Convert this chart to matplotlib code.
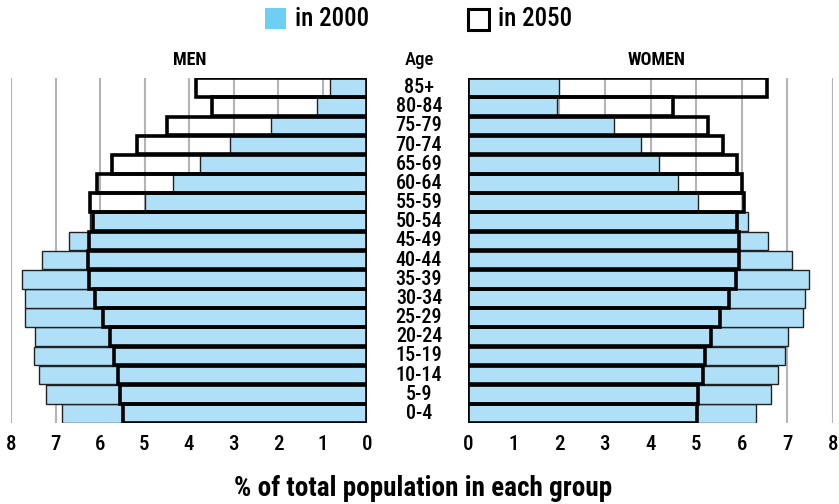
import matplotlib
matplotlib.use("Agg")
import matplotlib.pyplot as plt
from matplotlib import font_manager as fm
from matplotlib.patches import Rectangle

ages = ["0-4", "5-9", "10-14", "15-19", "20-24", "25-29", "30-34", "35-39", "40-44",
        "45-49", "50-54", "55-59", "60-64", "65-69", "70-74", "75-79", "80-84", "85+"]
men_2000 = [6.85, 7.21, 7.37, 7.48, 7.46, 7.69, 7.69, 7.75, 7.30,
            6.70, 6.22, 4.99, 4.37, 3.75, 3.08, 2.16, 1.13, 0.83]
men_2050 = [5.48, 5.55, 5.60, 5.69, 5.78, 5.93, 6.11, 6.25, 6.27,
            6.25, 6.15, 6.22, 6.06, 5.74, 5.16, 4.50, 3.48, 3.84]
women_2000 = [6.31, 6.64, 6.79, 6.95, 7.01, 7.34, 7.38, 7.47, 7.10,
              6.57, 6.14, 5.05, 4.60, 4.18, 3.80, 3.21, 1.96, 2.00]
women_2050 = [5.01, 5.05, 5.14, 5.19, 5.32, 5.52, 5.71, 5.87, 5.93,
              5.93, 5.90, 6.05, 6.01, 5.90, 5.58, 5.26, 4.50, 6.55]
ticks = [0, 1, 2, 3, 4, 5, 6, 7, 8]

names = {f.name for f in fm.fontManager.ttflist}
FONT = "DejaVu Sans"
for cand in ["Roboto Condensed", "Archivo Narrow", "Liberation Sans Narrow", "Open Sans Condensed"]:
    if cand in names:
        FONT = cand
        break
plt.rcParams["font.family"] = [FONT, "DejaVu Sans"]

BAR = "#afe0f7"
LEG = "#6ecff4"
GRID = "#b4b4b8"

W, H = 839, 504
fig = plt.figure(figsize=(W / 100, H / 100), dpi=100)

def ax_rect(x0, x1, y0, y1):
    return [x0 / W, 1 - y1 / H, (x1 - x0) / W, (y1 - y0) / H]

ax_m = fig.add_axes(ax_rect(11, 367, 78, 423))
ax_w = fig.add_axes(ax_rect(468, 833, 78, 423))

y = list(range(len(ages)))
h = 0.98
for ax, v00, v50 in [(ax_m, men_2000, men_2050), (ax_w, women_2000, women_2050)]:
    for t in ticks:
        ax.axvline(t, color=GRID, lw=1.5, zorder=0)
    ax.barh(y, v00, height=h, color=BAR, edgecolor="#222222", linewidth=1.0, zorder=2)
    ax.barh(y, v50, height=h, facecolor="none", edgecolor="black", linewidth=2.6, zorder=3)
    ax.set_xlim(0, 8)
    ax.set_ylim(-0.5, len(ages) - 0.5)
    ax.set_xticks(ticks)
    ax.set_xticklabels([str(t) for t in ticks], fontsize=15, fontweight="medium")
    ax.tick_params(axis="x", length=0, pad=9)
    ax.set_yticks([])
    for s in ax.spines.values():
        s.set_visible(False)
    ax.patch.set_alpha(0)

ax_m.invert_xaxis()

# age labels in the middle
for i, a in enumerate(ages):
    yy = 423 - (i + 0.5) * (345 / len(ages))
    fig.text(419 / W, 1 - yy / H, a, ha="center", va="center", fontsize=14.5, fontweight="medium")

fig.text(419 / W, 1 - 60 / H, "Age", ha="center", va="center", fontsize=13.5, fontweight="medium")
fig.text(190 / W, 1 - 60 / H, "MEN", ha="center", va="center", fontsize=13, fontweight="bold")
fig.text(657 / W, 1 - 60 / H, "WOMEN", ha="center", va="center", fontsize=13, fontweight="bold")

# legend
fig.patches.append(Rectangle((265 / W, 1 - 29 / H), 21 / W, 21 / H, transform=fig.transFigure,
                             facecolor=LEG, edgecolor="none"))
fig.text(295 / W, 1 - 19 / H, "in 2000", ha="left", va="center", fontsize=18, fontweight="medium")
fig.patches.append(Rectangle((468 / W, 1 - 30 / H), 21 / W, 21 / H, transform=fig.transFigure,
                             facecolor="white", edgecolor="black", linewidth=2.2))
fig.text(498 / W, 1 - 19 / H, "in 2050", ha="left", va="center", fontsize=18, fontweight="medium")

fig.text(423 / W, 1 - 489 / H, "% of total population in each group", ha="center", va="center",
         fontsize=19.5, fontweight="bold")

fig.savefig("out.png", dpi=100)
